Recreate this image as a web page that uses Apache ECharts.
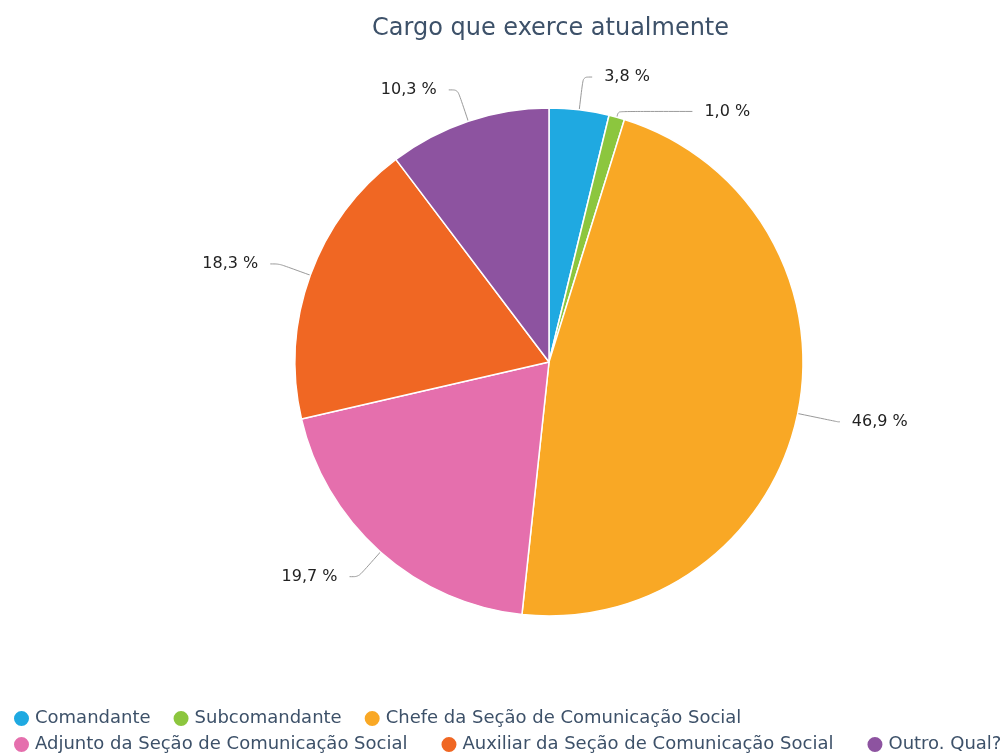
<!DOCTYPE html>
<html>
<head>
<meta charset="utf-8">
<script src="https://cdn.jsdelivr.net/npm/echarts@6/dist/echarts.min.js"></script>
<style>
  html, body { margin: 0; padding: 0; background: #ffffff; }
  #chart { width: 1006px; height: 754px; }
</style>
</head>
<body>
<div id="chart"></div>
<script>
// Cargo que exerce atualmente — distribuição percentual
const categories = [
  'Comandante',
  'Subcomandante',
  'Chefe da Seção de Comunicação Social',
  'Adjunto da Seção de Comunicação Social',
  'Auxiliar da Seção de Comunicação Social',
  'Outro. Qual?'
];
const percentages = [3.8, 1.0, 46.9, 19.7, 18.3, 10.3];
const sliceColors = ['#1fa9e1', '#8cc63e', '#f9a825', '#e56fad', '#f06723', '#8d53a0'];

const textColor = '#3d5169';
const fontFamily = '"DejaVu Sans", Verdana, sans-serif';

// connector lengths: the thin slice gets a short stem and a long tail so its
// label clears the neighbouring one; the big slice gets a longer stem
const connectorByIndex = {
  1: { length: 6, length2: 74 },
  2: { length: 41, length2: 2 }
};

const pieData = categories.map((name, i) => {
  const item = { name: name, value: percentages[i], itemStyle: { color: sliceColors[i] } };
  if (connectorByIndex[i]) item.labelLine = connectorByIndex[i];
  return item;
});

const legendText = { fontFamily: fontFamily, fontSize: 18, color: textColor };

const chart = echarts.init(document.getElementById('chart'), null, { renderer: 'canvas' });
chart.setOption({
  animation: false,
  backgroundColor: '#ffffff',
  title: {
    text: 'Cargo que exerce atualmente',
    left: 367,
    top: 12,
    textStyle: { fontFamily: fontFamily, fontSize: 24, fontWeight: 'normal', color: textColor }
  },
  legend: [
    {
      data: categories.slice(0, 3),
      left: 7,
      top: 704,
      width: 1400,
      orient: 'horizontal',
      icon: 'circle',
      itemWidth: 17,
      itemHeight: 17,
      itemGap: 21,
      textStyle: legendText
    },
    {
      data: categories.slice(3),
      left: 7,
      top: 730,
      width: 1400,
      orient: 'horizontal',
      icon: 'circle',
      itemWidth: 17,
      itemHeight: 17,
      itemGap: 32,
      textStyle: legendText
    }
  ],
  series: [{
    type: 'pie',
    center: [549, 362],
    radius: 254,
    startAngle: 90,
    clockwise: true,
    data: pieData,
    itemStyle: { borderColor: '#ffffff', borderWidth: 1.5 },
    label: {
      show: true,
      position: 'outside',
      fontFamily: fontFamily,
      fontSize: 16,
      color: '#222222',
      distanceToLabelLine: 12,
      formatter: p => p.value.toFixed(1).replace('.', ',') + ' %'
    },
    labelLine: {
      show: true,
      length: 33,
      length2: 9,
      smooth: 0.3,
      lineStyle: { color: '#9a9a9a', width: 1 }
    },
    emphasis: { disabled: true }
  }]
});
</script>
</body>
</html>
